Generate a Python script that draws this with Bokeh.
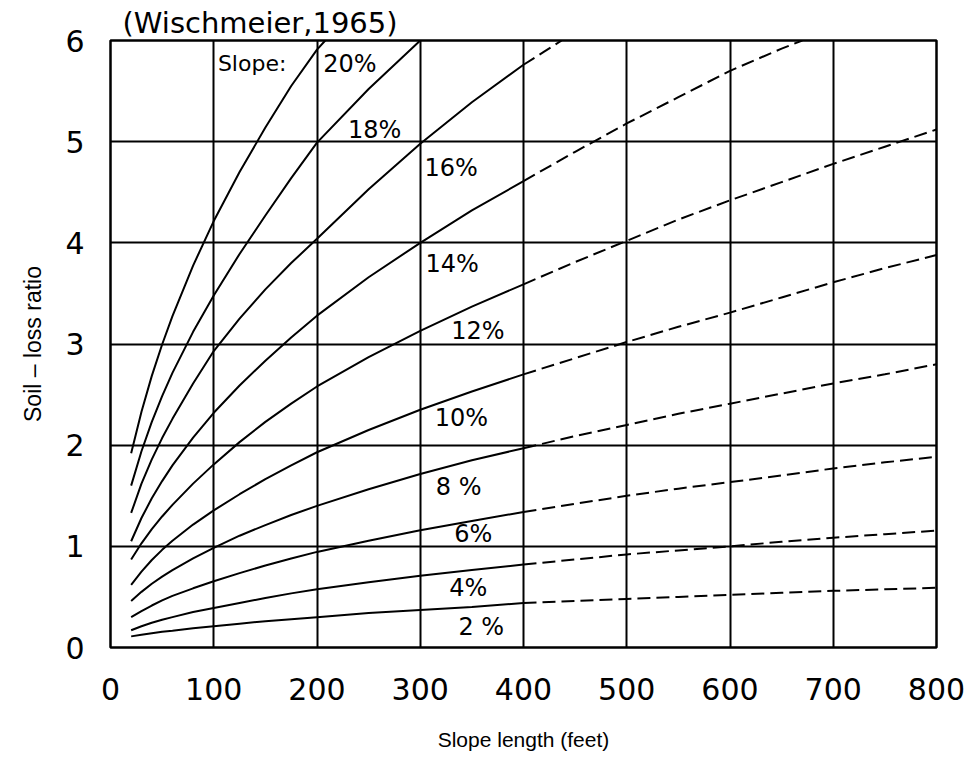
from bokeh.plotting import figure
from bokeh.models import Range1d, FixedTicker, Label
from bokeh.core.properties import value
from bokeh.embed import file_html
from bokeh.resources import INLINE

# ---------------- data ----------------
slope_labels = ["2 %", "4%", "6%", "8 %", "10%", "12%", "14%", "16%", "18%", "20%"]

# slope length (feet) for the solid (measured) part of the curves
length_solid = [20, 30, 40, 50, 60, 80, 100, 125, 150, 175, 200, 250, 300, 350, 400]
length_solid_18 = [20, 30, 40, 50, 60, 80, 100, 125, 150, 175, 200, 250, 300]
length_solid_20 = [20, 30, 40, 50, 60, 80, 100, 125, 150, 175, 200, 208]

# slope length for the dashed (extrapolated) part
length_dashed = [400, 450, 500, 550, 600, 650, 700, 750, 800]
length_dashed_14 = [400, 450, 500, 550, 600, 650, 670]
length_dashed_16 = [400, 420, 437]

# soil-loss ratio, solid part
ratio_2 = [0.11, 0.125, 0.14, 0.155, 0.165, 0.19, 0.21, 0.235, 0.26, 0.28, 0.30, 0.34, 0.37, 0.40, 0.44]
ratio_4 = [0.17, 0.21, 0.245, 0.275, 0.30, 0.35, 0.39, 0.44, 0.49, 0.535, 0.575, 0.645, 0.71, 0.765, 0.82]
ratio_6 = [0.30, 0.36, 0.415, 0.465, 0.51, 0.585, 0.655, 0.735, 0.81, 0.88, 0.945, 1.055, 1.16, 1.25, 1.34]
ratio_8 = [0.46, 0.55, 0.63, 0.70, 0.765, 0.88, 0.985, 1.105, 1.21, 1.31, 1.40, 1.565, 1.715, 1.85, 1.97]
ratio_10 = [0.62, 0.75, 0.865, 0.965, 1.055, 1.215, 1.355, 1.515, 1.665, 1.80, 1.93, 2.15, 2.35, 2.53, 2.70]
ratio_12 = [0.87, 1.03, 1.17, 1.295, 1.41, 1.62, 1.81, 2.03, 2.23, 2.41, 2.58, 2.87, 3.13, 3.37, 3.59]
ratio_14 = [1.05, 1.28, 1.475, 1.645, 1.80, 2.075, 2.32, 2.59, 2.835, 3.065, 3.28, 3.66, 4.00, 4.32, 4.61]
ratio_16 = [1.33, 1.62, 1.86, 2.07, 2.26, 2.61, 2.93, 3.25, 3.54, 3.80, 4.04, 4.53, 4.98, 5.39, 5.76]
ratio_18 = [1.60, 1.94, 2.23, 2.485, 2.715, 3.12, 3.48, 3.89, 4.27, 4.64, 4.99, 5.52, 6.0]
ratio_20 = [1.92, 2.33, 2.685, 2.995, 3.275, 3.775, 4.215, 4.70, 5.14, 5.55, 5.91, 6.0]

# soil-loss ratio, dashed part
ratio_2_dashed = [0.44, 0.46, 0.48, 0.50, 0.52, 0.54, 0.56, 0.575, 0.59]
ratio_4_dashed = [0.82, 0.87, 0.92, 0.96, 1.0, 1.045, 1.085, 1.12, 1.155]
ratio_6_dashed = [1.34, 1.42, 1.50, 1.57, 1.635, 1.70, 1.77, 1.83, 1.885]
ratio_8_dashed = [1.97, 2.09, 2.20, 2.31, 2.41, 2.51, 2.61, 2.70, 2.80]
ratio_10_dashed = [2.70, 2.86, 3.02, 3.17, 3.31, 3.46, 3.61, 3.75, 3.88]
ratio_12_dashed = [3.59, 3.81, 4.02, 4.23, 4.42, 4.60, 4.78, 4.95, 5.12]
ratio_14_dashed = [4.61, 4.90, 5.18, 5.44, 5.70, 5.92, 6.0]
ratio_16_dashed = [5.76, 5.89, 6.0]

x_ticks = [0, 100, 200, 300, 400, 500, 600, 700, 800]
y_ticks = [0, 1, 2, 3, 4, 5, 6]

solid_series = [
    (length_solid, ratio_2), (length_solid, ratio_4), (length_solid, ratio_6),
    (length_solid, ratio_8), (length_solid, ratio_10), (length_solid, ratio_12),
    (length_solid, ratio_14), (length_solid, ratio_16), (length_solid_18, ratio_18),
    (length_solid_20, ratio_20),
]
dashed_series = [
    (length_dashed, ratio_2_dashed), (length_dashed, ratio_4_dashed),
    (length_dashed, ratio_6_dashed), (length_dashed, ratio_8_dashed),
    (length_dashed, ratio_10_dashed), (length_dashed, ratio_12_dashed),
    (length_dashed_14, ratio_14_dashed), (length_dashed_16, ratio_16_dashed),
]

# curve-label anchor positions (data coordinates)
label_pos_x = [337, 328, 333, 315, 314, 330, 305, 304, 230, 206]
label_pos_y = [0.20, 0.59, 1.12, 1.59, 2.27, 3.13, 3.79, 4.74, 5.12, 5.77]

# ---------------- figure ----------------
p = figure(width=970, height=761,
           x_range=Range1d(0, 800), y_range=Range1d(0, 6),
           output_backend="svg", toolbar_location=None,
           title="(Wischmeier,1965)",
           min_border_left=110, min_border_right=34,
           min_border_top=40, min_border_bottom=114)

p.title.text_font = "DejaVu Sans"
p.title.text_font_size = "29px"
p.title.text_font_style = "normal"
p.title.text_color = "black"
p.title.align = "left"
p.title.offset = 12
p.title.standoff = 2

p.background_fill_color = "white"
p.border_fill_color = "white"
p.outline_line_color = "black"
p.outline_line_width = 2.5

for ax in (p.xaxis[0], p.yaxis[0]):
    ax.axis_line_color = None
    ax.major_tick_line_color = None
    ax.minor_tick_line_color = None
    ax.major_tick_in = 0
    ax.major_tick_out = 0
    ax.minor_tick_in = 0
    ax.minor_tick_out = 0
    ax.major_label_text_font = "DejaVu Sans"
    ax.major_label_text_font_size = "30px"
    ax.major_label_text_color = "black"
    ax.axis_label_text_font = "Liberation Sans"
    ax.axis_label_text_font_style = "normal"
    ax.axis_label_text_color = "black"

p.xaxis.axis_label_text_font_size = "21px"
p.yaxis.axis_label_text_font_size = "23px"
p.xaxis.ticker = FixedTicker(ticks=x_ticks)
p.yaxis.ticker = FixedTicker(ticks=y_ticks)
p.xaxis.axis_label = "Slope length (feet)"
p.yaxis.axis_label = "Soil \u2013 loss ratio"
p.xaxis.major_label_standoff = 30
p.xaxis.axis_label_standoff = 25
p.yaxis.major_label_standoff = 26
p.yaxis.axis_label_standoff = 16

p.xgrid.grid_line_color = "black"
p.ygrid.grid_line_color = "black"
p.xgrid.grid_line_width = 2
p.ygrid.grid_line_width = 2
p.xgrid.grid_line_alpha = 1.0
p.ygrid.grid_line_alpha = 1.0

for xs, ys in solid_series:
    p.line(xs, ys, line_color="black", line_width=2)

for xs, ys in dashed_series:
    p.line(xs, ys, line_color="black", line_width=2, line_dash="13 6")

p.text(x=label_pos_x, y=label_pos_y, text=slope_labels,
       text_font=value("DejaVu Sans"), text_font_size="24px",
       text_color="black", text_align="left", text_baseline="middle")

p.add_layout(Label(x=104, y=5.77, text="Slope:", text_font="DejaVu Sans",
                   text_font_size="22px", text_color="black",
                   text_align="left", text_baseline="middle"))

open("out.html", "w").write(file_html(p, INLINE))
